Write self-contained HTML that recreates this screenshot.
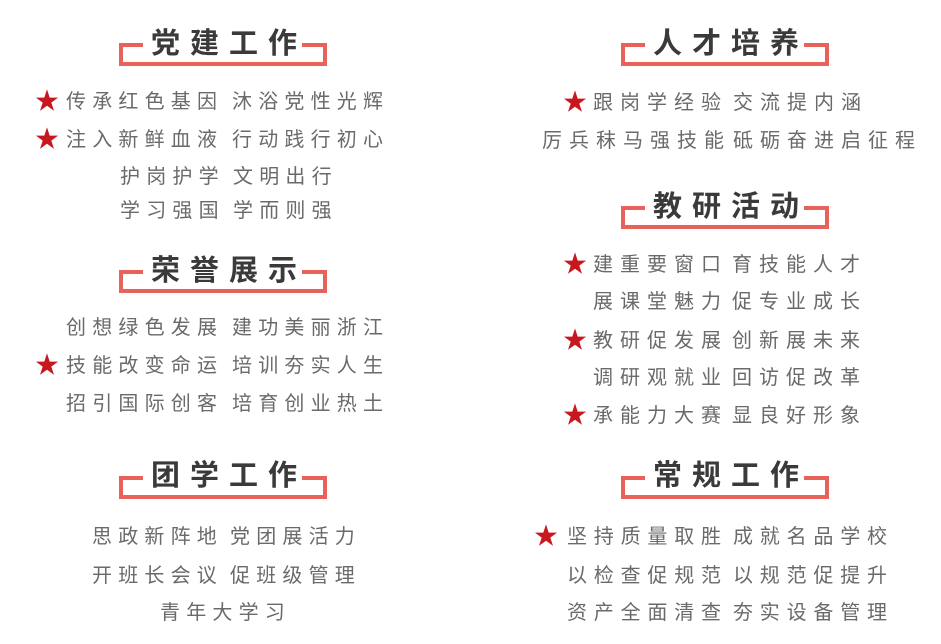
<!DOCTYPE html>
<html><head><meta charset="utf-8"><style>
body{margin:0;width:941px;height:644px;background:#fff;position:relative;overflow:hidden;font-family:"Liberation Sans","Noto Sans CJK SC",sans-serif}
.t{position:absolute;font-size:20px;line-height:28px;color:#6a6a6a;white-space:nowrap;letter-spacing:6.2px;margin-top:2px}
.r{letter-spacing:7px}
.s{position:absolute;font-size:24px;line-height:28px;color:#c8171e;margin-top:2px}
.b{position:absolute;width:200px;height:19px;border:4px solid #e8615a;border-top:none}
.b:before,.b:after{content:"";position:absolute;top:0;width:24px;height:4px;background:#e8615a}
.b:before{left:-4px}.b:after{right:-4px;width:25px}
.h{position:absolute;width:208px;text-align:center;font-size:29px;line-height:36px;color:#3a3a3a;letter-spacing:10px;text-indent:10px;font-family:"Liberation Sans","Noto Sans CJK SC",sans-serif;font-weight:bold;margin-top:3px}
</style></head><body>
<div class="b" style="left:119px;top:43px"></div><div class="h" style="left:120px;top:23px">党建工作</div>
<div class="s" style="left:35px;top:86px">★</div>
<div class="t" style="left:66px;top:86px">传承红色基因</div><div class="t" style="left:232px;top:86px">沐浴党性光辉</div>
<div class="s" style="left:35px;top:124px">★</div>
<div class="t" style="left:66px;top:124px">注入新鲜血液</div><div class="t" style="left:232px;top:124px">行动践行初心</div>
<div class="t" style="left:120px;top:161px">护岗护学</div><div class="t" style="left:233px;top:161px">文明出行</div>
<div class="t" style="left:120px;top:195px">学习强国</div><div class="t" style="left:233px;top:195px">学而则强</div>

<div class="b" style="left:119px;top:270px"></div><div class="h" style="left:120px;top:250px">荣誉展示</div>
<div class="t" style="left:66px;top:312px">创想绿色发展</div><div class="t" style="left:232px;top:312px">建功美丽浙江</div>
<div class="s" style="left:35px;top:350px">★</div>
<div class="t" style="left:66px;top:350px">技能改变命运</div><div class="t" style="left:232px;top:350px">培训夯实人生</div>
<div class="t" style="left:66px;top:388px">招引国际创客</div><div class="t" style="left:232px;top:388px">培育创业热土</div>

<div class="b" style="left:119px;top:476px"></div><div class="h" style="left:120px;top:455px">团学工作</div>
<div class="t" style="left:92px;top:521px">思政新阵地</div><div class="t" style="left:230px;top:521px">党团展活力</div>
<div class="t" style="left:92px;top:560px">开班长会议</div><div class="t" style="left:230px;top:560px">促班级管理</div>
<div class="t" style="left:160px;top:597px">青年大学习</div>

<div class="b" style="left:621px;top:43px"></div><div class="h" style="left:622px;top:23px">人才培养</div>
<div class="s" style="left:563px;top:87px">★</div>
<div class="t r" style="left:593px;top:87px">跟岗学经验</div><div class="t r" style="left:733px;top:87px">交流提内涵</div>
<div class="t r" style="left:542px;top:125px">厉兵秣马强技能</div><div class="t r" style="left:733px;top:125px">砥砺奋进启征程</div>

<div class="b" style="left:621px;top:206px"></div><div class="h" style="left:622px;top:186px">教研活动</div>
<div class="s" style="left:563px;top:249px">★</div>
<div class="t r" style="left:593px;top:249px">建重要窗口</div><div class="t r" style="left:732px;top:249px">育技能人才</div>
<div class="t r" style="left:593px;top:286px">展课堂魅力</div><div class="t r" style="left:732px;top:286px">促专业成长</div>
<div class="s" style="left:563px;top:325px">★</div>
<div class="t r" style="left:593px;top:325px">教研促发展</div><div class="t r" style="left:732px;top:325px">创新展未来</div>
<div class="t r" style="left:593px;top:362px">调研观就业</div><div class="t r" style="left:732px;top:362px">回访促改革</div>
<div class="s" style="left:563px;top:400px">★</div>
<div class="t r" style="left:593px;top:400px">承能力大赛</div><div class="t r" style="left:732px;top:400px">显良好形象</div>

<div class="b" style="left:621px;top:476px"></div><div class="h" style="left:622px;top:455px">常规工作</div>
<div class="s" style="left:534px;top:521px">★</div>
<div class="t" style="left:567px;top:521px;letter-spacing:6.8px">坚持质量取胜</div><div class="t" style="left:733px;top:521px;letter-spacing:6.8px">成就名品学校</div>
<div class="t" style="left:567px;top:560px;letter-spacing:6.8px">以检查促规范</div><div class="t" style="left:733px;top:560px;letter-spacing:6.8px">以规范促提升</div>
<div class="t" style="left:567px;top:597px;letter-spacing:6.8px">资产全面清查</div><div class="t" style="left:733px;top:597px;letter-spacing:6.8px">夯实设备管理</div>
</body></html>
